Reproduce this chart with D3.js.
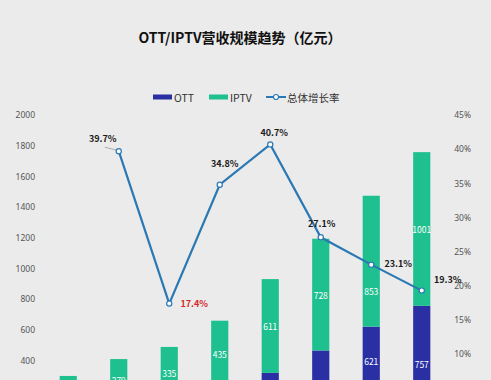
<!DOCTYPE html>
<html>
<head>
<meta charset="utf-8">
<script src="https://cdn.jsdelivr.net/npm/d3@7/dist/d3.min.js"></script>
<style>
html,body{margin:0;padding:0;background:#ebebeb;overflow:hidden;}
svg{display:block;font-family:"Noto Sans CJK SC","Noto Sans",sans-serif;}
</style>
</head>
<body>
<script>
// ---- data ----
const years = ["2016","2017","2018","2019","2020","2021","2022","2023"];
const ottValues = [95, 131, 154, 225, 320, 466, 621, 757];
const iptvValues = [205, 279, 335, 435, 611, 728, 853, 1001];
const growthRates = [null, 0.397, 0.174, 0.348, 0.407, 0.271, 0.231, 0.193];
const leftTicks = [0,200,400,600,800,1000,1200,1400,1600,1800,2000];
const rightTicks = [0,0.05,0.10,0.15,0.20,0.25,0.30,0.35,0.40,0.45];
const title = "OTT/IPTV营收规模趋势（亿元）";
const legendNames = ["OTT","IPTV","总体增长率"];

// ---- styles / layout ----
const W = 491, H = 480;
const colOTT = "#2a2fa3", colIPTV = "#1fc08f", colLine = "#2b79b4";
// label offsets for growth labels (dx, dy from point)
const growthLabelOffset = [null,[-16,-13],[25,0],[5,-21],[4,-12],[1,-14],[27,-1],[26,-11]];
// bar label nudges (iptv dy, ott dy) to keep labels off the line
const barLabelNudge = [[0,0],[0,0],[0,0],[0,0],[0,0],[0,0],[30,-13],[0,0]];

const svg = d3.select("body").append("svg").attr("width", W).attr("height", H);

const x = d3.scaleBand().domain(years).range([43, 447]).paddingInner(0.66).paddingOuter(0.33);
const yL = d3.scaleLinear().domain([0, 2000]).range([422, 115]);
const yR = d3.scaleLinear().domain([0, 0.45]).range([422.5, 115]);

// title
svg.append("text").attr("x", 240).attr("y", 43).attr("text-anchor","middle")
  .attr("font-size", 14).attr("font-weight","bold").attr("fill","#111").text(title);

// legend
const lg = svg.append("g");
lg.append("rect").attr("x",153).attr("y",94.5).attr("width",19).attr("height",5).attr("fill",colOTT);
lg.append("text").attr("x",174).attr("y",97).attr("dominant-baseline","central").attr("font-size",10.5).attr("fill","#333").text(legendNames[0]);
lg.append("rect").attr("x",209).attr("y",94.5).attr("width",19).attr("height",5).attr("fill",colIPTV);
lg.append("text").attr("x",230).attr("y",97).attr("dominant-baseline","central").attr("font-size",10.5).attr("fill","#333").text(legendNames[1]);
lg.append("line").attr("x1",266).attr("x2",286).attr("y1",97).attr("y2",97).attr("stroke",colLine).attr("stroke-width",2);
lg.append("circle").attr("cx",276).attr("cy",97).attr("r",2.5).attr("fill","#fff").attr("stroke",colLine).attr("stroke-width",1.2);
lg.append("text").attr("x",287).attr("y",97).attr("dominant-baseline","central").attr("font-size",10.5).attr("fill","#333").text(legendNames[2]);

// axes
const axL = svg.append("g").attr("transform","translate(35,0)")
  .call(d3.axisLeft(yL).tickValues(leftTicks).tickSize(0).tickPadding(0).tickFormat(d3.format("d")));
const axR = svg.append("g").attr("transform","translate(471,0)")
  .call(d3.axisLeft(yR).tickValues(rightTicks).tickSize(0).tickPadding(0).tickFormat(d3.format(".0%")));
[axL, axR].forEach(a => {
  a.select(".domain").remove();
  a.selectAll("text").attr("font-size", 8.5).attr("fill","#555").attr("font-family","\"Noto Sans\",sans-serif");
});

// bars
const bw = x.bandwidth();
const gb = svg.append("g");
years.forEach((yr, i) => {
  const o = ottValues[i], p = iptvValues[i];
  gb.append("rect").attr("x", x(yr)).attr("width", bw).attr("y", yL(o)).attr("height", yL(0)-yL(o)).attr("fill", colOTT);
  gb.append("rect").attr("x", x(yr)).attr("width", bw).attr("y", yL(o+p)).attr("height", yL(o)-yL(o+p)).attr("fill", colIPTV);
  gb.append("text").attr("x", x(yr)+bw/2).attr("y", (yL(o)+yL(o+p))/2 + barLabelNudge[i][0]).attr("text-anchor","middle")
    .attr("dominant-baseline","central").attr("font-size",8.5).attr("fill","#fff").text(p);
  gb.append("text").attr("x", x(yr)+bw/2).attr("y", (yL(0)+yL(o))/2 + barLabelNudge[i][1]).attr("text-anchor","middle")
    .attr("dominant-baseline","central").attr("font-size",8.5).attr("fill","#fff").text(o);
});

// line
const pts = years.map((yr,i)=>({yr, v:growthRates[i], i})).filter(d=>d.v!=null);
const cx = d => x(d.yr)+bw/2;
svg.append("path").datum(pts)
  .attr("d", d3.line().x(cx).y(d=>yR(d.v)))
  .attr("fill","none").attr("stroke",colLine).attr("stroke-width",2.2);
// leader line for first label
{
  const d = pts[0];
  svg.append("line").attr("x1", cx(d)-14).attr("y1", yR(d.v)-4).attr("x2", cx(d)-2).attr("y2", yR(d.v)-1)
    .attr("stroke","#999").attr("stroke-width",0.8);
}
svg.selectAll("circle.pt").data(pts).enter().append("circle").attr("class","pt")
  .attr("cx", cx).attr("cy", d=>yR(d.v)).attr("r", 2.6)
  .attr("fill","#fff").attr("stroke",colLine).attr("stroke-width",1.2);
const minV = d3.min(pts, d=>d.v);
svg.selectAll("text.gl").data(pts).enter().append("text").attr("class","gl")
  .attr("x", d=>cx(d)+growthLabelOffset[d.i][0]).attr("y", d=>yR(d.v)+growthLabelOffset[d.i][1])
  .attr("text-anchor","middle").attr("dominant-baseline","central")
  .attr("font-size",9).attr("font-weight","bold")
  .attr("fill", d=> d.v===minV ? "#d42a2a" : "#1a1a1a")
  .text(d=>d3.format(".1%")(d.v));
</script>
</body>
</html>
